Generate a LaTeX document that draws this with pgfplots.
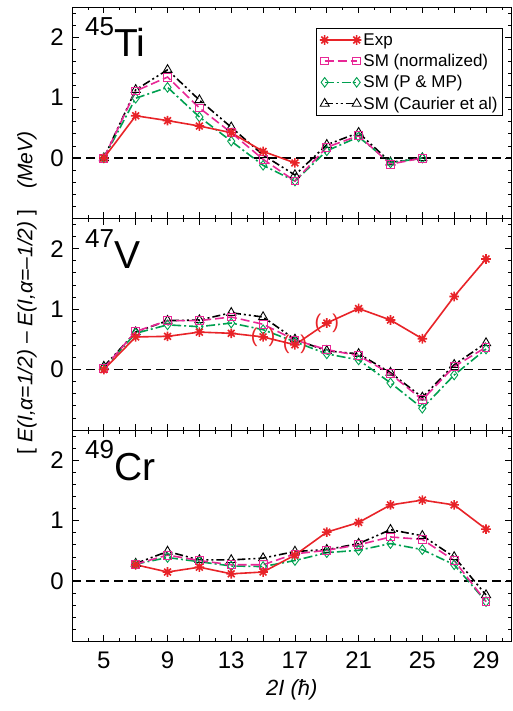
\documentclass[border=0pt]{standalone}
\usepackage{fontspec}
\setmainfont{Liberation Sans}
\usepackage{pgfplots}
\pgfplotsset{compat=1.18}

\definecolor{expred}{RGB}{232,35,40}
\definecolor{smpink}{RGB}{232,40,150}
\definecolor{smgreen}{RGB}{0,160,80}

% eight-armed star used for the experimental points
\pgfdeclareplotmark{star8}{%
  \pgfpathmoveto{\pgfqpoint{0pt}{\pgfplotmarksize}}\pgfpathlineto{\pgfqpoint{0pt}{-\pgfplotmarksize}}%
  \pgfpathmoveto{\pgfqpoint{\pgfplotmarksize}{0pt}}\pgfpathlineto{\pgfqpoint{-\pgfplotmarksize}{0pt}}%
  \pgfpathmoveto{\pgfqpointpolar{45}{\pgfplotmarksize}}\pgfpathlineto{\pgfqpointpolar{225}{\pgfplotmarksize}}%
  \pgfpathmoveto{\pgfqpointpolar{135}{\pgfplotmarksize}}\pgfpathlineto{\pgfqpointpolar{315}{\pgfplotmarksize}}%
  \pgfusepathqstroke}

\pgfplotsset{
  panel/.style={
    scale only axis, width=439.5pt, height=211.5pt,
    xmin=3, xmax=30.6, ymin=-1, ymax=2.5,
    xtick={5,7,...,29}, minor xtick={4,6,...,30},
    ytick={0,1,2},
    minor ytick={-0.8,-0.6,-0.4,-0.2,0.2,0.4,0.6,0.8,1.2,1.4,1.6,1.8,2.2,2.4},
    xtick pos=both, ytick pos=both, tick align=inside,
    major tick length=6.5pt, minor tick length=3.5pt,
    every tick/.style={black, line width=0.8pt},
    axis line style={line width=0.9pt},
    /pgf/number format/assume math mode=true,
    tick label style={font=\fontsize{24}{24}\selectfont},
    yticklabel style={inner sep=0pt, xshift=-8pt},
    xticklabel style={inner sep=0pt, yshift=-10pt},
    legend image code/.code={%
      \draw[mark repeat=2,mark phase=1,##1] plot coordinates {(0pt,0pt) (16pt,0pt) (32pt,0pt)};},
  },
  zeroline/.style={black, line width=1.4pt, dash pattern=on 9pt off 5pt, forget plot},
  expstyle/.style={expred, line width=1.6pt, mark=star8, mark size=4.8pt, mark options={solid, line width=1.6pt}},
  normstyle/.style={smpink, line width=1.6pt, dash pattern=on 9pt off 4pt, mark=square, mark size=3.9pt, mark options={solid, line width=0.9pt}},
  pmpstyle/.style={smgreen, line width=1.6pt, dash pattern=on 9pt off 3pt on 2pt off 3pt, mark=diamond, mark size=4.8pt, mark options={solid, line width=0.9pt}},
  caustyle/.style={black, line width=1.6pt, dash pattern=on 8pt off 3pt on 2pt off 3pt on 2pt off 3pt, mark=triangle, mark size=5.2pt, mark options={solid, line width=0.9pt}},
}

\newcommand{\nucleus}[2]{\raisebox{21.5pt}{\fontsize{26}{26}\selectfont #1}\fontsize{39}{39}\selectfont #2}

\begin{document}
\begin{tikzpicture}

% ---------- 45Ti ----------
\begin{axis}[panel, at={(72pt,-7pt)}, anchor=north west,
  xticklabels={},
  reverse legend,
  legend style={draw=black, line width=0.8pt, font=\fontsize{17}{17}\selectfont,
    at={(axis description cs:0.9807,0.9007)}, anchor=north east,
    row sep=3.5pt, inner xsep=3pt, inner ysep=3pt,
    nodes={inner sep=2pt}},
  legend cell align=left]
\addplot[zeroline] coordinates {(3,0) (31,0)};
\addplot[caustyle] coordinates {(5,0) (7,1.13) (9,1.46) (11,0.96) (13,0.51) (15,0.05) (17,-0.28) (19,0.22) (21,0.42) (23,-0.07) (25,0.0)};
\addlegendentry{SM (Caurier et al)}
\addplot[pmpstyle] coordinates {(5,0) (7,0.99) (9,1.17) (11,0.68) (13,0.28) (15,-0.12) (17,-0.38) (19,0.12) (21,0.35) (23,-0.08) (25,0.0)};
\addlegendentry{SM (P \& MP)}
\addplot[normstyle] coordinates {(5,0) (7,1.11) (9,1.34) (11,0.83) (13,0.42) (15,-0.02) (17,-0.38) (19,0.18) (21,0.37) (23,-0.10) (25,0.0)};
\addlegendentry{SM (normalized)}
\addplot[expstyle] coordinates {(5,0) (7,0.70) (9,0.62) (11,0.53) (13,0.42) (15,0.11) (17,-0.08)};
\addlegendentry{Exp}
\node[anchor=base west, inner sep=0pt] at (rel axis cs:0.0296,0.7636) {\nucleus{45}{Ti}};
\end{axis}

% ---------- 47V ----------
\begin{axis}[panel, at={(72pt,-218.5pt)}, anchor=north west, xticklabels={}]
\addplot[zeroline] coordinates {(3,0) (31,0)};
\addplot[caustyle] coordinates {(5,0.05) (7,0.62) (9,0.81) (11,0.82) (13,0.94) (15,0.87) (17,0.50) (19,0.31) (21,0.26) (23,-0.05) (25,-0.46) (27,0.08) (29,0.44)};
\addplot[pmpstyle] coordinates {(5,0.02) (7,0.60) (9,0.74) (11,0.71) (13,0.77) (15,0.66) (17,0.46) (19,0.26) (21,0.16) (23,-0.22) (25,-0.64) (27,-0.09) (29,0.34)};
\addplot[normstyle] coordinates {(5,0.02) (7,0.63) (9,0.81) (11,0.81) (13,0.87) (15,0.75) (17,0.49) (19,0.33) (21,0.23) (23,-0.07) (25,-0.50) (27,0.05) (29,0.37)};
\addplot[expstyle] coordinates {(5,0) (7,0.54) (9,0.55) (11,0.62) (13,0.60) (15,0.54) (17,0.41) (19,0.77) (21,1.01) (23,0.82) (25,0.51) (27,1.21) (29,1.83)};
% tentative levels, shown in brackets
\addplot[draw=none, mark=none, forget plot,
  nodes near coords={(\hspace{11pt})},
  nodes near coords style={anchor=center, inner sep=0pt, text=expred, font=\fontsize{20}{20}\selectfont}]
  coordinates {(15,0.54) (17,0.41) (19,0.77)};
\node[anchor=base west, inner sep=0pt] at (rel axis cs:0.0296,0.7636) {\nucleus{47}{V}};
\end{axis}

% ---------- 49Cr ----------
\begin{axis}[panel, at={(72pt,-430pt)}, anchor=north west,
  xticklabels={5,,9,,13,,17,,21,,25,,29},
  xlabel={\textit{2I (ħ)}},
  xlabel style={at={(axis description cs:0.5,0)}, anchor=center, yshift=-48pt,
    font=\fontsize{22}{22}\selectfont}]
\addplot[zeroline] coordinates {(3,0) (31,0)};
\addplot[caustyle] coordinates {(7,0.29) (9,0.49) (11,0.35) (13,0.35) (15,0.38) (17,0.49) (19,0.52) (21,0.62) (23,0.85) (25,0.75) (27,0.40) (29,-0.23)};
\addplot[pmpstyle] coordinates {(7,0.28) (9,0.39) (11,0.32) (13,0.25) (15,0.24) (17,0.34) (19,0.47) (21,0.51) (23,0.62) (25,0.52) (27,0.27) (29,-0.34)};
\addplot[normstyle] coordinates {(7,0.28) (9,0.43) (11,0.34) (13,0.27) (15,0.27) (17,0.45) (19,0.51) (21,0.60) (23,0.73) (25,0.69) (27,0.34) (29,-0.34)};
\addplot[expstyle] coordinates {(7,0.27) (9,0.15) (11,0.23) (13,0.12) (15,0.15) (17,0.43) (19,0.81) (21,0.97) (23,1.26) (25,1.34) (27,1.26) (29,0.86)};
\node[anchor=base west, inner sep=0pt] at (rel axis cs:0.0296,0.7636) {\nucleus{49}{Cr}};
\end{axis}

% common y-axis title
\node[rotate=90, anchor=center, font=\fontsize{21}{21}\selectfont] at (27pt,-293pt)
  {[ \textit{E(I,α=1/2)} – \textit{E(I,α=–1/2)} ]\quad\textit{(MeV)}};

\pgfresetboundingbox
\path (0pt,0pt) rectangle (513pt,-711pt);
\end{tikzpicture}
\end{document}
